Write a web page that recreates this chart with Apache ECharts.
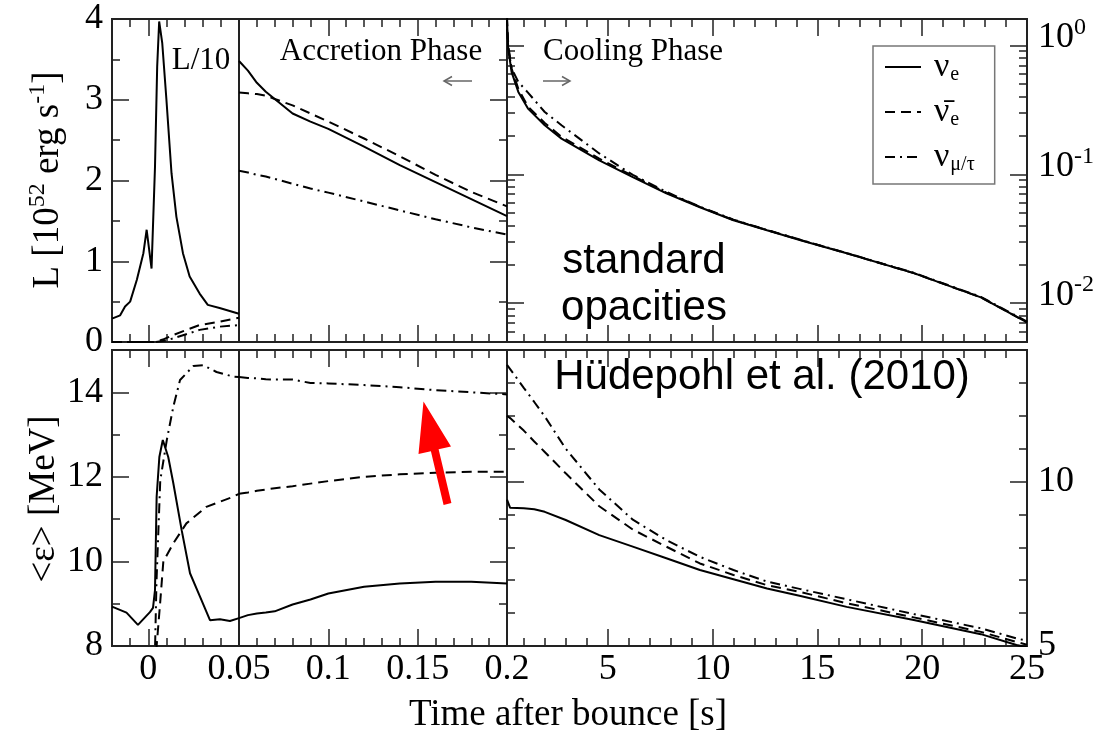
<!DOCTYPE html>
<html>
<head>
<meta charset="utf-8">
<title>Neutrino signal - standard opacities</title>
<script src="https://cdn.jsdelivr.net/npm/echarts@6.0.0/dist/echarts.min.js"></script>
<style>
  html, body { margin: 0; padding: 0; background: #fff; }
  #chart { width: 1107px; height: 733px; }
</style>
</head>
<body>
<div id="chart"></div>
<script>
// ---- data ----
// bounce window, luminosity shown as L/10 [1e52 erg/s]
const bounceTimeNue = [-0.02, -0.0155, -0.0128, -0.01, -0.0063, -0.0027, -0.0009, 0.0018, 0.0037, 0.0049, 0.006, 0.0077, 0.01, 0.0128, 0.0155, 0.0191, 0.0228, 0.0283, 0.0328, 0.0393, 0.05];
const bounceLumNue = [0.29, 0.33, 0.44, 0.50, 0.77, 1.10, 1.39, 0.91, 2.17, 3.41, 3.97, 3.70, 3.00, 2.09, 1.55, 1.10, 0.81, 0.60, 0.46, 0.42, 0.35];
const bounceTimeAnti = [-0.02, 0.003, 0.008, 0.0138, 0.02, 0.0283, 0.0393, 0.05];
const bounceLumAnti = [0, 0, 0.03, 0.087, 0.14, 0.21, 0.25, 0.30];
const bounceTimeX = [-0.02, 0.004, 0.01, 0.0138, 0.02, 0.0283, 0.0393, 0.05];
const bounceLumX = [0, 0, 0.02, 0.045, 0.09, 0.15, 0.19, 0.21];

// bounce window, mean energies [MeV]
const bounceEnTimeNue = [-0.02, -0.012, -0.0057, 0.0009, 0.0026, 0.0037, 0.0046, 0.0061, 0.008, 0.011, 0.0138, 0.0184, 0.023, 0.0285, 0.034, 0.0395, 0.045, 0.05];
const bounceEnNue = [8.93, 8.79, 8.50, 8.80, 8.90, 9.32, 11.53, 12.47, 12.87, 12.47, 11.85, 10.74, 9.72, 9.17, 8.61, 8.63, 8.59, 8.66];
const bounceEnTimeAnti = [0.004, 0.0046, 0.0065, 0.0083, 0.0138, 0.021, 0.032, 0.0468, 0.05];
const bounceEnAnti = [7.5, 8.0, 9.0, 10.0, 10.43, 10.9, 11.29, 11.53, 11.60];
const bounceEnTimeX = [0.0035, 0.0045, 0.0066, 0.0102, 0.0138, 0.0175, 0.0248, 0.0303, 0.0376, 0.0468, 0.05];
const bounceEnX = [7.5, 9.5, 11.92, 12.87, 13.66, 14.29, 14.62, 14.64, 14.48, 14.37, 14.36];

// accretion phase
const accTime = [0.05, 0.055, 0.06, 0.065, 0.07, 0.08, 0.09, 0.10, 0.12, 0.14, 0.16, 0.18, 0.20];
const accLumNue = [3.48, 3.36, 3.21, 3.10, 3.01, 2.83, 2.73, 2.64, 2.42, 2.19, 1.98, 1.77, 1.56];
const accLumAnti = [3.09, 3.08, 3.07, 3.05, 3.01, 2.93, 2.83, 2.73, 2.52, 2.30, 2.07, 1.86, 1.68];
const accLumX = [2.12, 2.10, 2.07, 2.05, 2.02, 1.96, 1.90, 1.85, 1.74, 1.63, 1.52, 1.42, 1.33];
const accEnNue = [8.66, 8.73, 8.77, 8.79, 8.82, 8.98, 9.10, 9.24, 9.40, 9.48, 9.52, 9.52, 9.48];
const accEnAnti = [11.60, 11.63, 11.67, 11.70, 11.73, 11.78, 11.84, 11.90, 12.0, 12.06, 12.10, 12.12, 12.12];
const accEnX = [14.36, 14.34, 14.33, 14.31, 14.30, 14.30, 14.22, 14.21, 14.17, 14.12, 14.05, 14.00, 13.95];

// cooling phase, luminosity (log scale)
const coolTime = [0.2, 0.26, 0.42, 0.74, 1.2, 2.0, 2.8, 4.6, 6.2, 7.8, 9.4, 11.0, 12.6, 14.2, 16.4, 19.6, 22.8, 25];
const coolLumNue = [1.55, 0.94, 0.62, 0.435, 0.323, 0.24, 0.189, 0.128, 0.095, 0.071, 0.0555, 0.044, 0.0368, 0.0308, 0.0244, 0.0171, 0.0111, 0.0071];
const coolLumAnti = [1.68, 1.0, 0.66, 0.46, 0.335, 0.25, 0.195, 0.132, 0.097, 0.072, 0.0558, 0.0442, 0.0369, 0.0309, 0.0244, 0.0171, 0.0111, 0.0071];
const coolLumX = [1.33, 0.95, 0.66, 0.52, 0.43, 0.304, 0.24, 0.145, 0.099, 0.073, 0.056, 0.0445, 0.037, 0.031, 0.0245, 0.0172, 0.0112, 0.0072];

// cooling phase, mean energies
const coolEnTime = [0.2, 0.35, 1.0, 1.5, 2.0, 3.0, 4.6, 6.2, 7.8, 9.4, 11.0, 12.6, 14.2, 16.4, 19.6, 22.8, 24.5, 25];
const coolEnNue = [9.45, 9.20, 9.19, 9.16, 9.08, 8.83, 8.37, 8.02, 7.67, 7.31, 7.03, 6.75, 6.52, 6.19, 5.79, 5.36, 5.03, 4.96];
const coolEnAnti = [12.0, 11.93, 11.55, 11.22, 10.9, 10.25, 9.25, 8.54, 8.02, 7.51, 7.16, 6.85, 6.64, 6.30, 5.87, 5.43, 5.12, 5.04];
const coolEnX = [13.55, 13.42, 12.85, 12.42, 11.98, 11.0, 9.76, 8.84, 8.22, 7.71, 7.31, 6.96, 6.73, 6.42, 5.97, 5.54, 5.23, 5.16];

// ticks and tick labels
const bounceMajor = [0];
const bounceMinor = [-0.01, 0.01, 0.02, 0.03, 0.04];
const bounceLabels = [0];
const accMajor = [0.1, 0.15];
const accMinor = [0.06, 0.07, 0.08, 0.09, 0.11, 0.12, 0.13, 0.14, 0.16, 0.17, 0.18, 0.19];
const accLabels = [0.05, 0.1, 0.15, 0.2];
const coolMajor = [5, 10, 15, 20];
const coolMinor = [1, 2, 3, 4, 6, 7, 8, 9, 11, 12, 13, 14, 16, 17, 18, 19, 21, 22, 23, 24];
const coolLabels = [5, 10, 15, 20, 25];
const lumMajor = [1, 2, 3];
const lumMinor = [0.5, 1.5, 2.5, 3.5];
const lumLabels = [0, 1, 2, 3, 4];
const logMajor = [0.01, 0.1, 1];
const logMinor = [0.006, 0.007, 0.008, 0.009, 0.02, 0.03, 0.04, 0.05, 0.06, 0.07, 0.08, 0.09, 0.2, 0.3, 0.4, 0.5, 0.6, 0.7, 0.8, 0.9];
const logLabels = [0.01, 0.1, 1];
const enMajor = [10, 12, 14];
const enMinor = [9, 11, 13];
const enLabels = [8, 10, 12, 14];
const coolEnMajor = [10];
const coolEnMinor = [6, 7, 8, 9, 11, 12, 13];
const coolEnLabels = [5, 10];

// ---- layout ----
const SERIF = '"Liberation Serif", "Times New Roman", serif';
const SANS = '"Liberation Sans", Arial, sans-serif';
const SOLID = 'solid';
const DASH = [10, 6];
const DASHDOT = [10, 5, 2, 5];

const chart = echarts.init(document.getElementById('chart'), null, { renderer: 'canvas' });

const grids = [
  { left: 112, top: 19, width: 127, height: 323 },
  { left: 239, top: 19, width: 268, height: 323 },
  { left: 507, top: 19, width: 520, height: 323 },
  { left: 112, top: 350, width: 127, height: 296 },
  { left: 239, top: 350, width: 268, height: 296 },
  { left: 507, top: 350, width: 520, height: 296 }
].map(g => Object.assign({ show: true, borderColor: '#222', borderWidth: 2, backgroundColor: 'transparent' }, g));

const xAxes = [];
const yAxes = [];

function tickAxis(grid, pos, scale, values, len, labels, labelOpt) {
  const ax = {
    type: scale.type || 'value',
    gridIndex: grid,
    position: pos,
    min: scale.min,
    max: scale.max,
    axisLine: { show: false, onZero: false },
    splitLine: { show: false },
    axisTick: {
      show: values.length > 0,
      inside: true,
      length: len,
      customValues: values,
      lineStyle: { color: '#222', width: 1.5 }
    },
    axisLabel: { show: false }
  };
  if (ax.type === 'log') ax.logBase = 10;
  if (labels) {
    ax.axisLabel = Object.assign({
      show: true, customValues: labels, color: '#000', fontFamily: SERIF, fontSize: 36
    }, labelOpt);
  }
  return ax;
}

// one frame: ticks on top/bottom + chosen sides, first y axis is the data axis
function panel(grid, xs, ys, sides, labelSide) {
  const xi = xAxes.length;
  xAxes.push(tickAxis(grid, 'bottom', xs, xs.major, 17, xs.labels, { margin: 6 }));
  xAxes.push(tickAxis(grid, 'bottom', xs, xs.minor, 8));
  xAxes.push(tickAxis(grid, 'top', xs, xs.major, 17));
  xAxes.push(tickAxis(grid, 'top', xs, xs.minor, 8));
  const yi = yAxes.length;
  sides.forEach(side => {
    const lab = side === labelSide ? ys.labels : null;
    yAxes.push(tickAxis(grid, side, ys, ys.major, 17, lab, ys.labelOpt));
    yAxes.push(tickAxis(grid, side, ys, ys.minor, 8));
  });
  return { xi, yi };
}

const bounceX = { min: -0.02, max: 0.05, major: bounceMajor, minor: bounceMinor };
const accX = { min: 0.05, max: 0.2, major: accMajor, minor: accMinor };
const coolX = { min: 0.2, max: 25, major: coolMajor, minor: coolMinor };
const withLabels = (s, labels) => Object.assign({}, s, { labels });

const lumY = { min: 0, max: 4, major: lumMajor, minor: lumMinor, labels: lumLabels, labelOpt: { margin: 9 } };
const logY = {
  type: 'log', min: 0.005, max: 1.6, major: logMajor, minor: logMinor, labels: logLabels,
  labelOpt: {
    margin: 11,
    padding: [0, 0, 16, 0],
    formatter: v => '{b|10}{s|' + Math.round(Math.log10(v)) + '}',
    rich: {
      b: { fontFamily: SERIF, fontSize: 36, color: '#000' },
      s: { fontFamily: SERIF, fontSize: 24, color: '#000', padding: [0, 0, 20, 0] }
    }
  }
};
const enY = { min: 8, max: 15, major: enMajor, minor: enMinor, labels: enLabels, labelOpt: { margin: 9 } };
const coolEnY = { min: 5, max: 14, major: coolEnMajor, minor: coolEnMinor, labels: coolEnLabels, labelOpt: { margin: 11 } };

const pTL = panel(0, bounceX, lumY, ['left'], 'left');
const pTM = panel(1, accX, lumY, ['right'], null);
const pTR = panel(2, coolX, logY, ['left', 'right'], 'right');
const pBL = panel(3, withLabels(bounceX, bounceLabels), enY, ['left'], 'left');
const pBM = panel(4, withLabels(accX, accLabels), enY, ['right'], null);
const pBR = panel(5, withLabels(coolX, coolLabels), coolEnY, ['left', 'right'], 'right');

function curve(name, dash, p, xs, ys) {
  return {
    name: name,
    type: 'line',
    xAxisIndex: p.xi,
    yAxisIndex: p.yi,
    data: xs.map((x, i) => [x, ys[i]]),
    symbol: 'none',
    silent: true,
    z: 5,
    itemStyle: { color: '#000' },
    lineStyle: { color: '#000', width: 2, type: dash }
  };
}

const series = [
  curve('nue', SOLID, pTL, bounceTimeNue, bounceLumNue),
  curve('nueb', DASH, pTL, bounceTimeAnti, bounceLumAnti),
  curve('nux', DASHDOT, pTL, bounceTimeX, bounceLumX),
  curve('nue', SOLID, pTM, accTime, accLumNue),
  curve('nueb', DASH, pTM, accTime, accLumAnti),
  curve('nux', DASHDOT, pTM, accTime, accLumX),
  curve('nue', SOLID, pTR, coolTime, coolLumNue),
  curve('nueb', DASH, pTR, coolTime, coolLumAnti),
  curve('nux', DASHDOT, pTR, coolTime, coolLumX),
  curve('nue', SOLID, pBL, bounceEnTimeNue, bounceEnNue),
  curve('nueb', DASH, pBL, bounceEnTimeAnti, bounceEnAnti),
  curve('nux', DASHDOT, pBL, bounceEnTimeX, bounceEnX),
  curve('nue', SOLID, pBM, accTime, accEnNue),
  curve('nueb', DASH, pBM, accTime, accEnAnti),
  curve('nux', DASHDOT, pBM, accTime, accEnX),
  curve('nue', SOLID, pBR, coolEnTime, coolEnNue),
  curve('nueb', DASH, pBR, coolEnTime, coolEnAnti),
  curve('nux', DASHDOT, pBR, coolEnTime, coolEnX)
];

function txt(text, x, y, size, family, extra) {
  return Object.assign({
    type: 'text', x: x, y: y, silent: true, z: 20,
    style: Object.assign({
      text: text, fill: '#000', fontSize: size, fontFamily: family,
      align: 'center', verticalAlign: 'middle', textAlign: 'center', textVerticalAlign: 'middle'
    }, extra && extra.style)
  }, extra && extra.el);
}

function grayLine(points) {
  return { type: 'polyline', silent: true, z: 20, shape: { points: points }, style: { stroke: '#666', lineWidth: 1.5, fill: null } };
}

const supRich = {
  s: { fontFamily: SERIF, fontSize: 24, color: '#000', padding: [0, 0, 20, 0] }
};

const graphics = [
  txt('L/10', 201, 61, 31, SERIF),
  txt('Accretion Phase', 381, 52, 31, SERIF),
  txt('Cooling Phase', 633, 52, 31, SERIF),
  grayLine([[444, 81], [472, 81]]),
  grayLine([[452, 76.5], [444, 81], [452, 85.5]]),
  grayLine([[543, 81], [570, 81]]),
  grayLine([[562, 76.5], [570, 81], [562, 85.5]]),
  txt('standard', 644, 261, 42, SANS),
  txt('opacities', 644, 308, 42, SANS),
  txt('Hüdepohl et al. (2010)', 762, 377, 42, SANS),
  txt('Time after bounce [s]', 568, 715, 37, SERIF),
  txt('L [10{s|52} erg s{s|-1}]', 48, 180, 37, SERIF, {
    style: { rich: supRich },
    el: { rotation: Math.PI / 2 }
  }),
  txt('<ε> [MeV]', 44, 499, 37, SERIF, { el: { rotation: Math.PI / 2 } }),
  {
    type: 'polygon', silent: true, z: 20,
    shape: {
      points: [[423.5, 401.5], [451, 446.5], [438.6, 449.3], [451.4, 503.1], [443.6, 504.9], [430.9, 451.2], [418.5, 454]]
    },
    style: { fill: '#ff0000' }
  }
];

const legendNames = {
  nue: '{v|ν}{s|e}',
  nueb: '{v|ν\u0304}{s|e}',
  nux: '{v|ν}{s|μ/τ}'
};

const option = {
  animation: false,
  backgroundColor: '#fff',
  grid: grids,
  xAxis: xAxes,
  yAxis: yAxes,
  legend: {
    data: ['nue', 'nueb', 'nux'],
    orient: 'vertical',
    left: 873,
    top: 46,
    padding: [4, 20, 9, 11],
    itemGap: 10,
    itemWidth: 36,
    itemHeight: 12,
    borderColor: '#777',
    borderWidth: 1.5,
    backgroundColor: '#fff',
    selectedMode: false,
    itemStyle: { opacity: 0 },
    formatter: name => legendNames[name],
    textStyle: {
      color: '#000',
      rich: {
        v: { fontFamily: SERIF, fontSize: 34, color: '#000', padding: [0, 0, 0, 8] },
        s: { fontFamily: SERIF, fontSize: 20, color: '#000', padding: [16, 0, 0, 1] }
      }
    }
  },
  graphic: graphics,
  series: series
};

chart.setOption(option);
</script>
</body>
</html>
